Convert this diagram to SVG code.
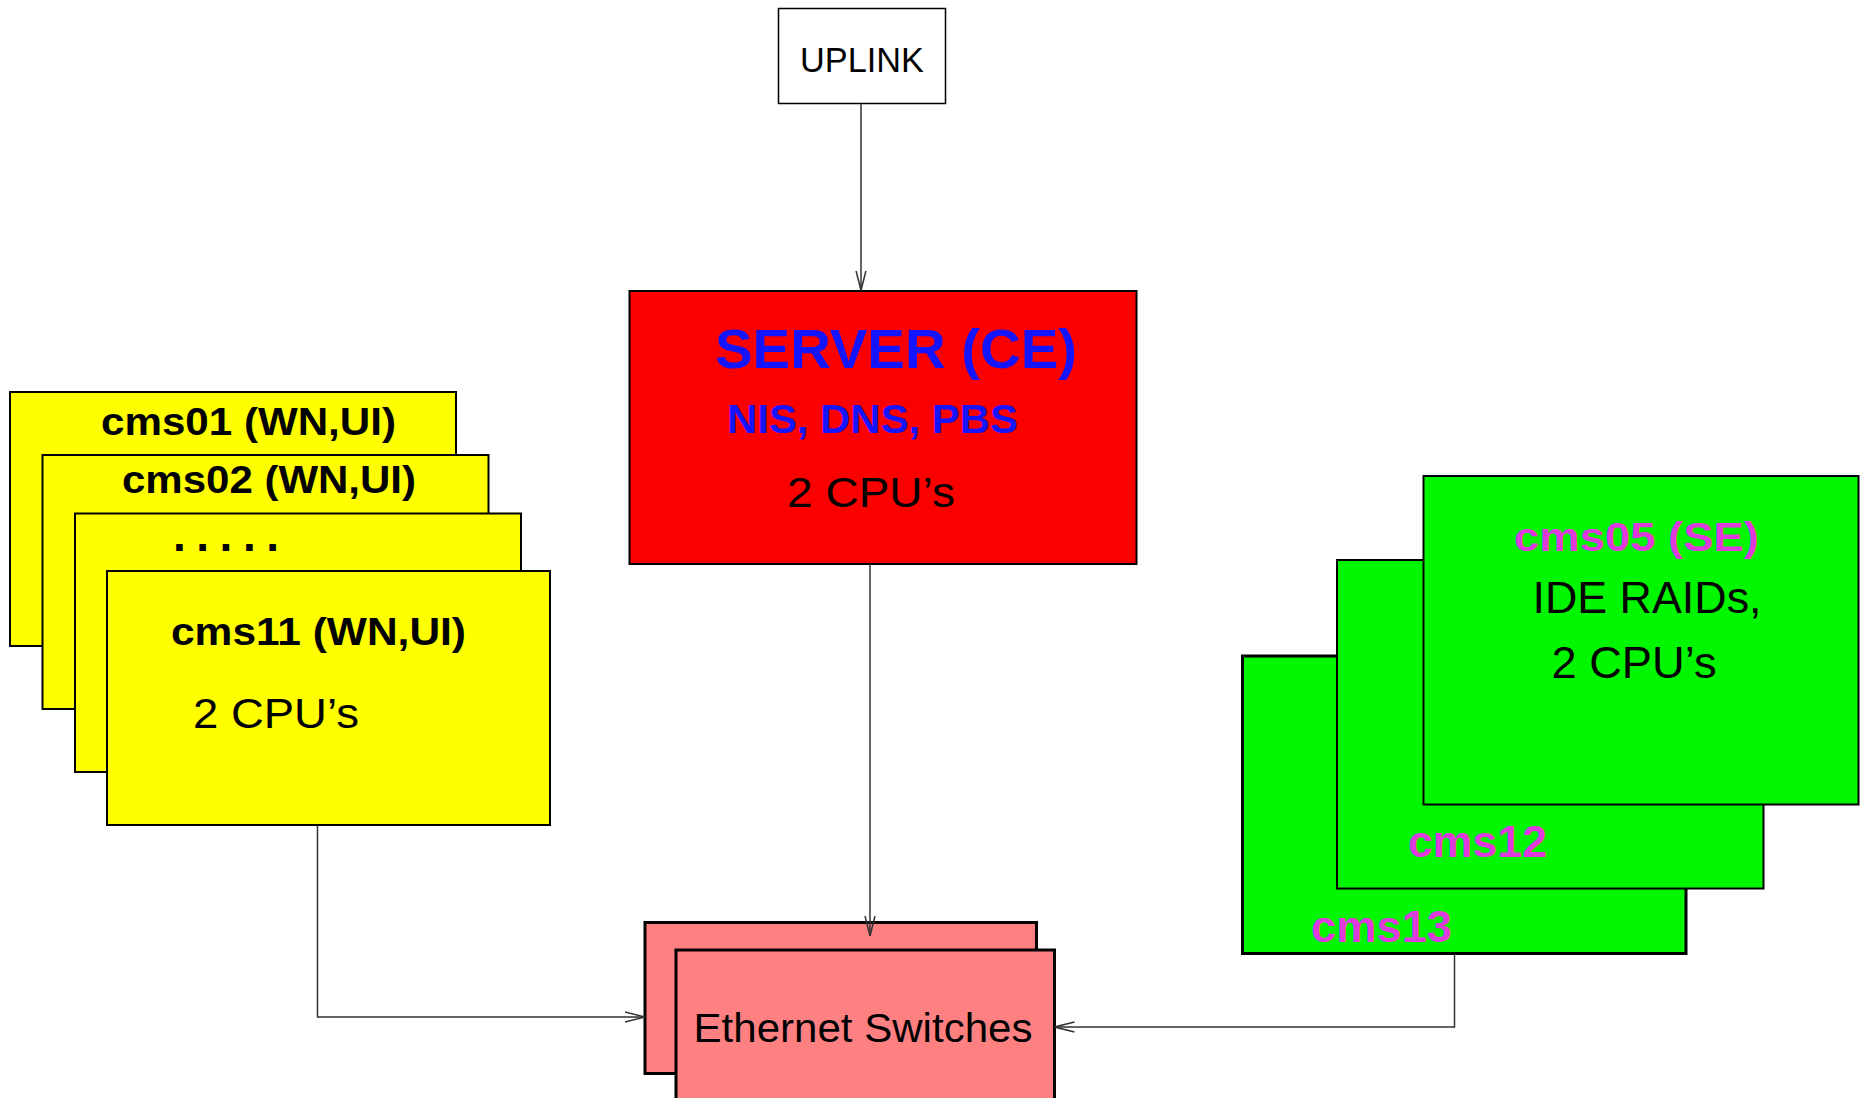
<svg xmlns="http://www.w3.org/2000/svg" width="1862" height="1098" viewBox="0 0 1862 1098">
  <defs>
    <style>
      .box { stroke: #000; stroke-width: 2; }
      .thick { stroke-width: 3; }
      .yellow { fill: #ffff00; }
      .green { fill: #00f700; }
      .pink { fill: #ff8080; }
      .red { fill: #fc0000; }
      .wire { fill: none; stroke: #333; stroke-width: 1.5; }
      .t { font-family: "Liberation Sans", Arial, sans-serif; text-anchor: middle; }
      .b { font-weight: bold; }
      .blk { fill: #000; }
      .blue { fill: #1414ff; }
      .mag { fill: #de3ade; }
    </style>
    <marker id="vhead" viewBox="0 0 20 12" refX="20" refY="6" markerWidth="20" markerHeight="12" markerUnits="userSpaceOnUse" orient="auto">
      <path d="M0,1 L20,6 L0,11" fill="none" stroke="#333" stroke-width="1.5"/>
    </marker>
  </defs>

  <rect width="1862" height="1098" fill="#fff"/>

  <!-- uplink -->
  <g id="uplink">
    <rect x="778.5" y="8.5" width="167" height="95" fill="#fff" stroke="#000" stroke-width="1.5"/>
    <text class="t blk" x="862" y="72" font-size="35" textLength="124" lengthAdjust="spacingAndGlyphs">UPLINK</text>
  </g>

  <!-- compute element server -->
  <g id="server">
    <rect class="box red" x="629.5" y="291" width="507" height="273" stroke-width="2.5"/>
    <text class="t b blue" x="896" y="368" font-size="55" textLength="362" lengthAdjust="spacingAndGlyphs">SERVER (CE)</text>
    <text class="t b blue" x="872.5" y="433" font-size="41" textLength="291" lengthAdjust="spacingAndGlyphs">NIS, DNS, PBS</text>
    <text class="t blk" x="871" y="507" font-size="43" textLength="168" lengthAdjust="spacingAndGlyphs">2 CPU’s</text>
  </g>

  <!-- worker nodes, stacked back to front -->
  <g id="worker-nodes">
    <g id="cms01">
      <rect class="box yellow" x="10" y="392" width="446" height="254"/>
      <text class="t b blk" x="248.5" y="435" font-size="38" textLength="295" lengthAdjust="spacingAndGlyphs">cms01 (WN,UI)</text>
    </g>
    <g id="cms02">
      <rect class="box yellow" x="42.5" y="455" width="446" height="254"/>
      <text class="t b blk" x="269" y="493" font-size="38" textLength="294" lengthAdjust="spacingAndGlyphs">cms02 (WN,UI)</text>
    </g>
    <g id="cms-more">
      <rect class="box yellow" x="75" y="513.5" width="446" height="258.5"/>
      <text class="t b blk" x="226" y="551" font-size="46" textLength="106" lengthAdjust="spacing">. . . . .</text>
    </g>
    <g id="cms11">
      <rect class="box yellow" x="107" y="571" width="443" height="254"/>
      <text class="t b blk" x="318.5" y="645" font-size="38" textLength="295" lengthAdjust="spacingAndGlyphs">cms11 (WN,UI)</text>
      <text class="t blk" x="276" y="728" font-size="42" textLength="166" lengthAdjust="spacingAndGlyphs">2 CPU’s</text>
    </g>
  </g>

  <!-- storage nodes, stacked back to front -->
  <g id="storage-nodes">
    <g id="cms13">
      <rect class="box thick green" x="1242.5" y="656" width="443.5" height="297.5"/>
      <text class="t b mag" x="1381.5" y="942" font-size="45" textLength="141" lengthAdjust="spacingAndGlyphs">cms13</text>
    </g>
    <g id="cms12">
      <rect class="box green" x="1337" y="560" width="426.5" height="328.5"/>
      <text class="t b mag" x="1477.5" y="857" font-size="45" textLength="139" lengthAdjust="spacingAndGlyphs">cms12</text>
    </g>
    <g id="cms05">
      <rect class="box green" x="1423.5" y="476" width="435" height="328.5"/>
      <text class="t b mag" x="1636.5" y="551" font-size="40" textLength="245" lengthAdjust="spacingAndGlyphs">cms05 (SE)</text>
      <text class="t blk" x="1647" y="613" font-size="45" textLength="229" lengthAdjust="spacingAndGlyphs">IDE RAIDs,</text>
      <text class="t blk" x="1634" y="678" font-size="44" textLength="165" lengthAdjust="spacingAndGlyphs">2 CPU’s</text>
    </g>
  </g>

  <!-- switches -->
  <g id="switches">
    <rect class="box thick pink" x="645" y="922.5" width="391.5" height="151"/>
    <rect class="box thick pink" x="676" y="950" width="378.5" height="170"/>
    <text class="t blk" x="863" y="1042" font-size="41" textLength="339" lengthAdjust="spacingAndGlyphs">Ethernet Switches</text>
  </g>

  <!-- links -->
  <g id="connectors">
    <path class="wire" d="M861,103.5 V290.5" marker-end="url(#vhead)"/>
    <path class="wire" d="M870,564 V936" marker-end="url(#vhead)"/>
    <path class="wire" d="M317.5,825 V1017 H645" marker-end="url(#vhead)"/>
    <path class="wire" d="M1454.5,954 V1027 H1054.5" marker-end="url(#vhead)"/>
  </g>
</svg>
